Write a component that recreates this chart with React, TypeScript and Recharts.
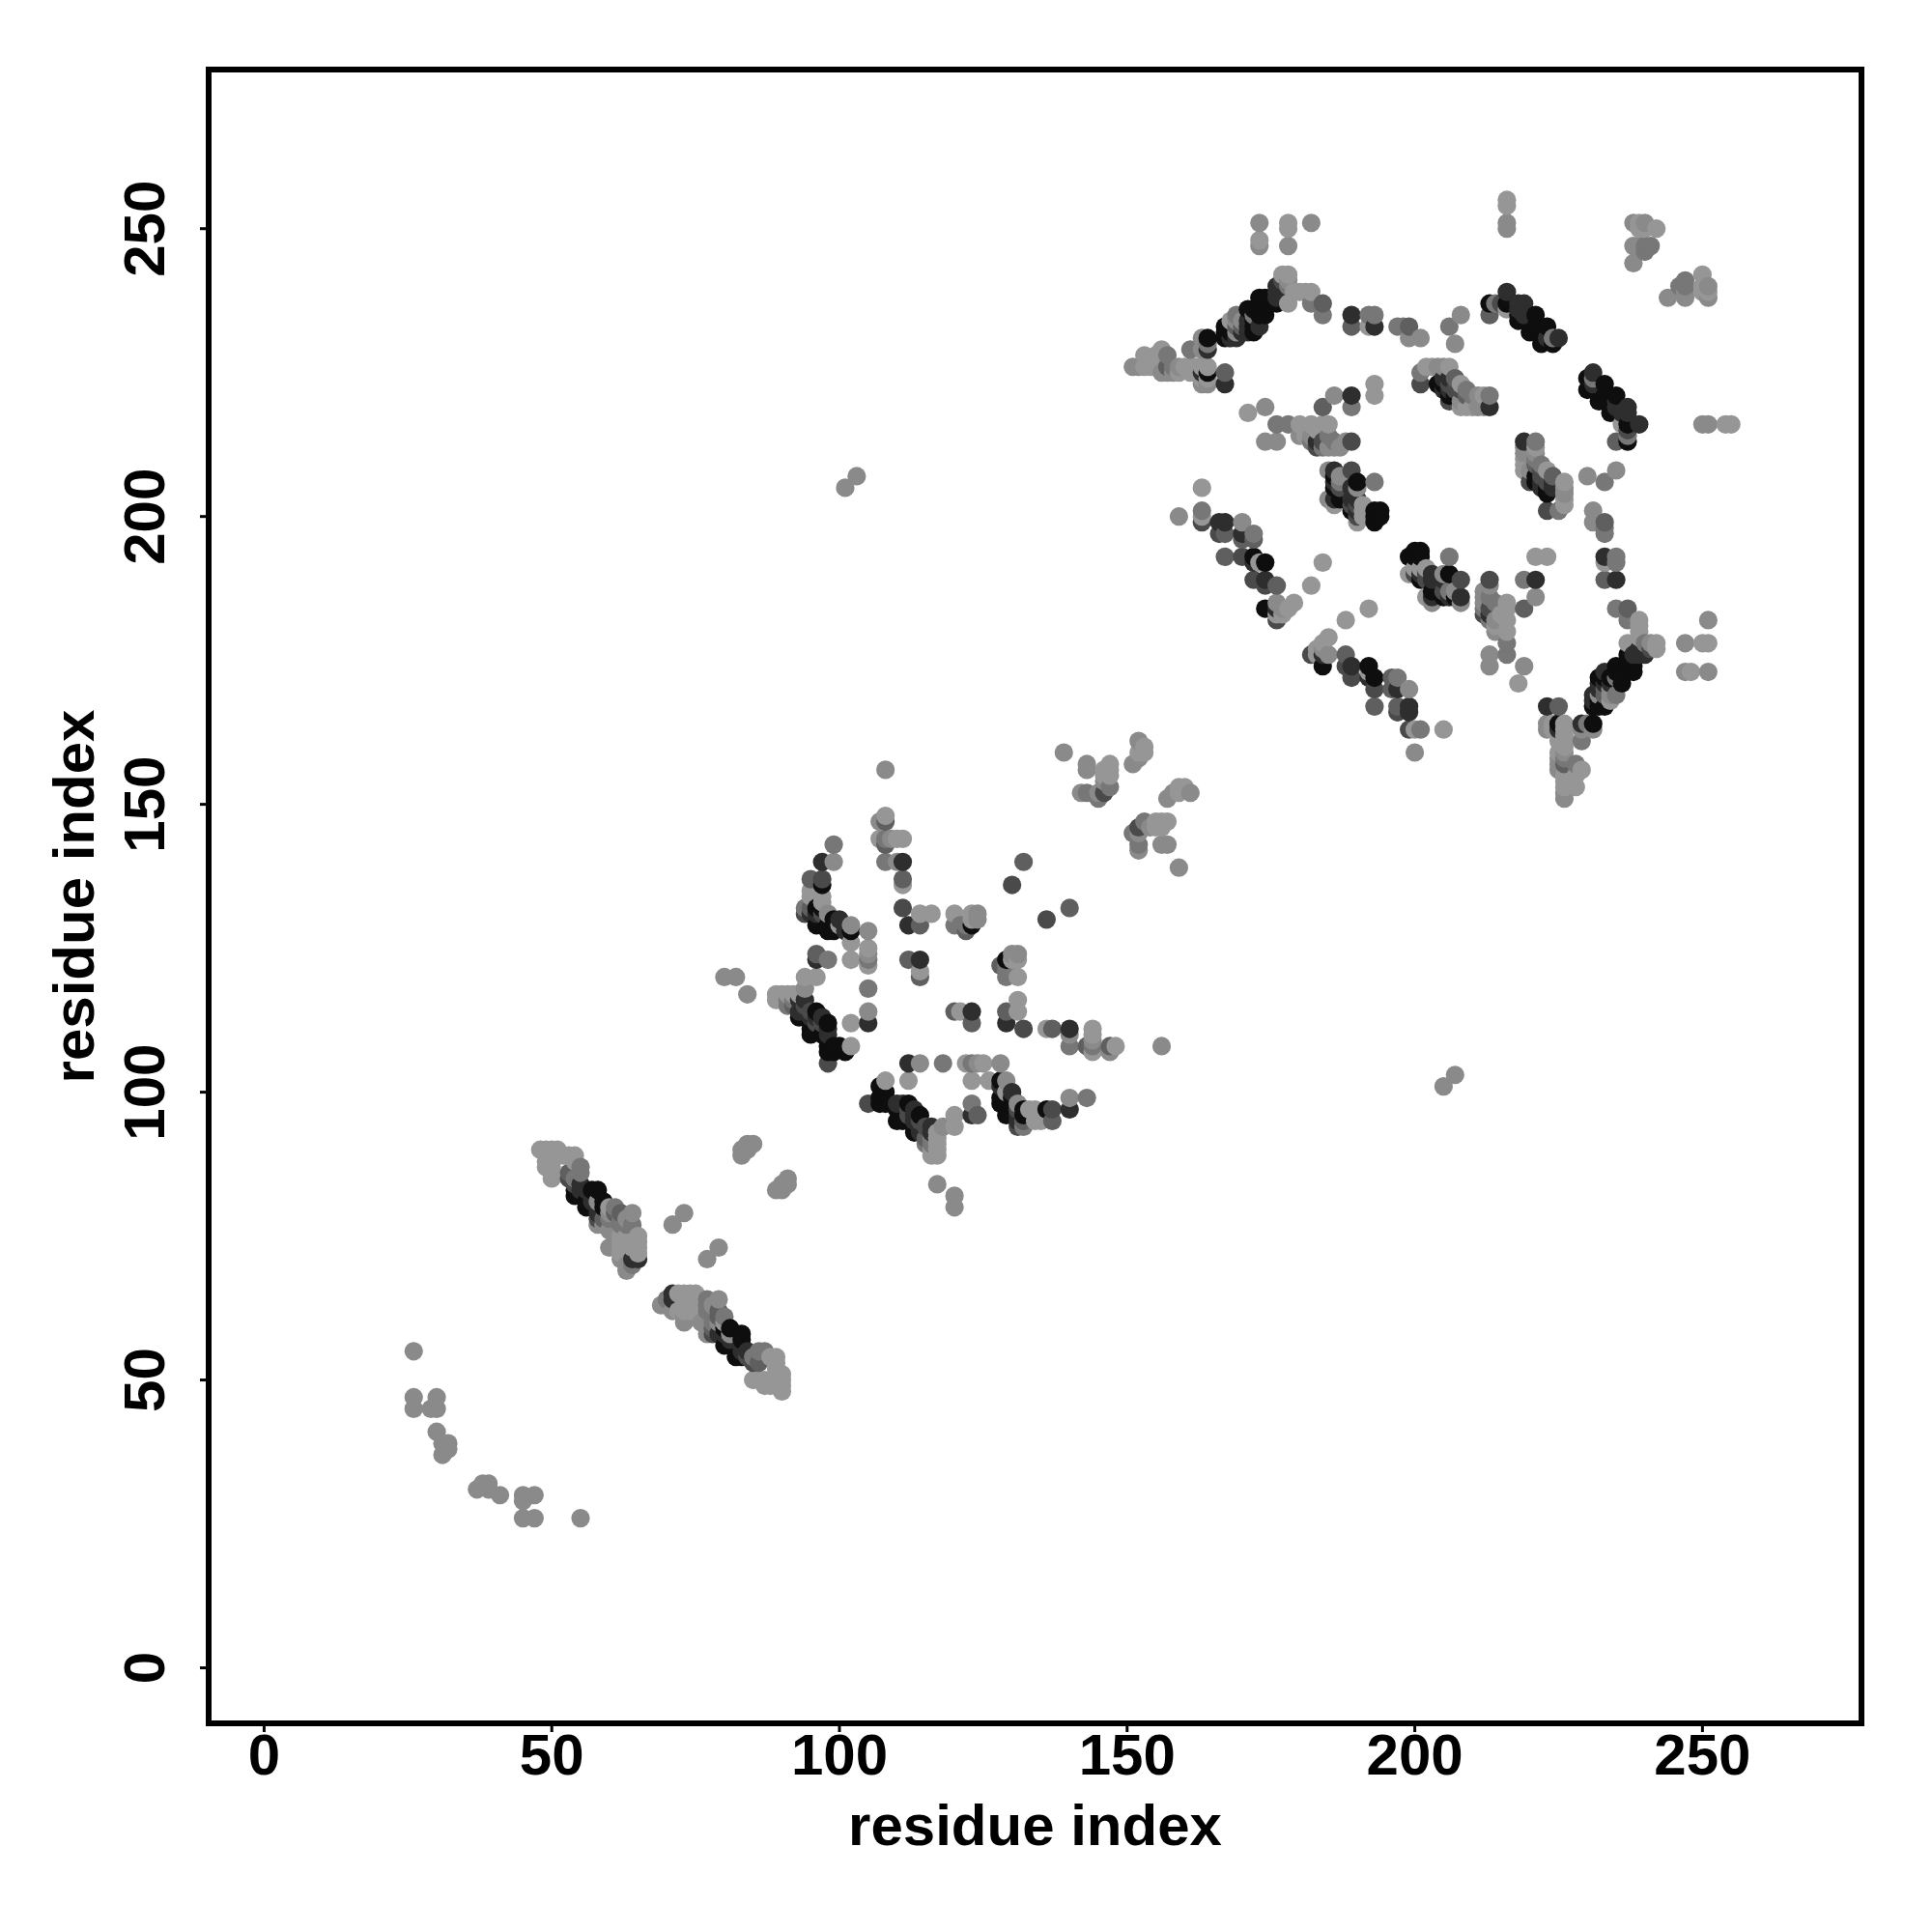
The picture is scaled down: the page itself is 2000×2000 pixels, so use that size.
import { ScatterChart, Scatter, XAxis, YAxis, ReferenceArea, Label } from "recharts";

// residue pairs (i < j), one list per grey level
const palest = [
  [48,90],[49,90],[50,90],[51,90],[49,88],[49,87],[50,89],[50,88],[50,87],[50,86],[50,85],[52,89],[53,89],[54,89],[54,88],
  [60,80],[62,75],[62,74],[63,75],[63,74],[63,73],[64,74],[64,73],[65,75],[65,74],[65,73],[65,72],[62,73],[62,72],
  [89,117],[89,116],[90,117],[90,116],[91,117],[92,117],[93,117],[94,120],[96,120],[102,108],[95,135],[95,134],[97,134],[97,133],
  [100,129],[102,126],[105,125],[105,122],[102,123],[102,112],[108,148],[107,144],[110,144],[111,144],[111,136],[114,131],[116,131],
  [120,131],[123,131],[123,130],[114,121],[146,156],[146,155],[147,157],[147,156],[147,155],[153,159],[152,159],[153,160],
  [173,248],[178,251],[178,250],[153,226],[153,228],[154,227],[154,226],[155,226],[155,228],[156,229],[159,225],[160,226],[161,226],
  [161,225],[162,226],[163,226],[163,224],[164,226],[164,224],[168,234],[177,242],[178,242],[178,237],[179,239],[180,239],[181,239],
  [182,239],[192,233],[202,226],[203,226],[206,226],[208,223],[208,219],[209,219],[210,219],[212,221],[171,218],[193,223],[193,221],
  [180,216],[182,216],[184,216],[185,216],[181,214],[183,215],[186,202],[191,201],[191,202],[191,200],[163,200],[173,192],[184,192],
  [182,188],[176,183],[177,183],[178,184],[179,185],[190,199],[216,255],[216,254],[216,236],[240,250],[239,251],[239,250],
  [242,250],[163,205],
];
const pale = [
  [26,55],[26,47],[26,45],[30,47],[29,45],[30,45],[30,41],[31,39],[32,39],[32,38],[31,37],[71,77],[73,79],[83,89],[83,90],[84,90],
  [84,91],[85,91],[58,77],[59,77],[60,76],[60,73],[61,73],[62,71],[63,70],[63,69],[64,79],[63,78],[60,79],[58,81],
  [80,120],[82,120],[84,117],[94,118],[99,140],[102,129],[105,128],[105,124],[105,114],[98,131],[107,147],[109,144],[110,140],
  [124,131],[124,130],[101,205],[103,207],[139,159],[143,157],[143,156],[142,152],[145,152],[146,154],[151,157],[152,161],[152,158],
  [108,156],[173,251],[173,247],[178,247],[182,251],[151,226],[152,226],[156,225],[157,225],[158,225],[159,226],[163,231],[163,229],
  [163,223],[164,223],[169,232],[169,234],[170,234],[178,241],[199,231],[201,231],[208,235],[207,230],[204,226],[208,220],
  [211,219],[212,219],[211,221],[174,219],[186,221],[174,213],[176,213],[180,214],[182,214],[185,212],[186,212],[187,212],[188,213],
  [185,208],[187,207],[185,203],[190,205],[159,200],[170,199],[176,185],[177,184],[216,251],[216,250],
  [238,251],[240,251],[238,247],[239,247],[238,244],[205,226],
];
const mid = [
  [55,87],[55,86],[62,78],[62,77],[63,77],[64,77],[64,70],[54,85],[60,78],[61,80],[91,116],[91,115],[92,116],[94,132],[99,143],
  [105,123],[105,118],[98,123],[108,144],[108,140],[120,129],[122,129],[121,129],[147,153],[143,152],[145,151],[161,229],[157,228],
  [158,226],[164,230],[169,235],[182,237],[184,235],[192,235],[193,235],[189,219],[197,233],[198,233],[206,233],[201,225],
  [209,222],[213,221],[210,221],[176,216],[178,216],[182,213],[184,212],[185,214],[186,213],[193,206],[187,206],
  [163,201],[172,197],[178,240],[214,237],[224,231],[240,247],[240,246],[241,247],[172,235],
];
const dim = [
  [53,86],[61,79],[62,79],[59,78],[92,115],[95,132],[95,137],[96,124],[112,123],[114,120],[114,129],[108,147],[108,143],[111,137],
  [122,128],[132,140],[157,226],[167,225],[169,233],[170,233],[184,237],[184,219],[189,233],[199,233],[207,224],[209,221],
  [167,197],[167,193],[172,196],[170,196],[176,188],[213,235],
];
const dusky = [
  [53,85],[54,84],[58,78],[94,131],[94,115],[95,114],[96,112],[97,112],[98,105],[97,137],[97,131],[111,132],[130,136],[146,152],
  [177,241],[201,223],[208,222],[207,222],[206,223],[206,220],[183,212],[184,213],[189,213],[189,208],[187,205],[190,202],
  [189,202],[190,200],[163,199],[166,197],[170,193],[172,189],[174,188],[176,182],[215,237],
];
const dark = [
  [55,84],[56,83],[57,81],[58,80],[58,79],[64,71],[65,71],[55,83],[93,116],[93,114],[94,116],[94,114],[95,113],[96,113],[97,113],
  [96,131],[95,131],[97,140],[96,123],[100,130],[101,128],[98,111],[98,110],[105,112],[112,129],[111,140],[114,123],[163,225],
  [164,229],[167,223],[168,231],[169,231],[170,232],[171,232],[171,233],[171,234],[173,233],[176,240],[176,239],[176,238],[177,239],
  [189,235],[193,233],[205,224],[206,224],[206,222],[205,222],[213,219],[183,213],[186,208],[189,205],[189,203],[189,221],
  [190,201],[186,203],[186,206],[190,203],[166,199],[167,199],[170,197],[172,192],[174,189],[176,184],[216,239],[218,237],[219,237],
  [220,235],[218,236],[219,235],[223,231],[225,231],
];
const black = [
  [54,83],[54,82],[56,81],[56,80],[57,83],[58,83],[59,81],[59,80],[93,113],[95,111],[95,110],[96,114],[97,110],[98,112],[98,109],
  [98,108],[98,107],[99,108],[100,108],[99,107],[101,107],[96,132],[96,129],[97,136],[97,132],[98,128],[98,129],[99,130],[99,128],
  [102,128],[123,129],[164,231],[164,225],[167,231],[167,232],[168,232],[171,236],[172,232],[172,234],[172,233],[172,236],[173,235],
  [173,236],[173,238],[174,235],[174,237],[174,238],[175,237],[175,238],[176,237],[167,233],[207,221],[206,221],[205,223],[204,223],
  [190,206],[186,205],[186,207],[187,203],[193,201],[194,201],[193,200],[194,200],[193,199],[189,201],[172,193],[174,192],[174,184],
  [213,237],[216,237],[218,235],[218,234],[221,235],[220,232],[221,233],[223,233],[222,230],[224,230],
];

const xTicks = [0, 50, 100, 150, 200, 250];
const yTicks = [0, 50, 100, 150, 200, 250];
const axisRange = [-9.64, 277.64];

const shadeGroups: [number[][], number][] = [
  [palest, 150], [pale, 138], [mid, 119], [dim, 95], [dusky, 74], [dark, 46], [black, 14],
];

// the map is symmetric, each pair shows on both sides of the diagonal;
// drawn in index order so later residues sit on top like in the original
const contacts = shadeGroups
  .flatMap(([pairs, grey]) =>
    pairs.flatMap(([i, j]) => [
      { x: i, y: j, grey },
      { x: j, y: i, grey },
    ])
  )
  .sort((a, b) => a.x - b.x || a.y - b.y);

const font = "'Liberation Sans', Arial, sans-serif";

function ContactDot(props: any) {
  const { cx, cy, payload } = props;
  const g = payload.grey;
  return <circle cx={cx} cy={cy} r={9.6} fill={`rgb(${g},${g},${g})`} />;
}

function RotatedTick(props: any) {
  const { y, payload } = props;
  return (
    <text
      transform={`rotate(-90 170 ${y})`}
      x={170}
      y={y}
      textAnchor="middle"
      fontFamily={font}
      fontWeight={700}
      fontSize={60}
      fill="#000"
    >
      {payload.value}
    </text>
  );
}

export default function App() {
  return (
    <div style={{ position: "absolute", left: 0, top: 0, width: 2000, height: 2000, background: "#fff" }}>
      <ScatterChart width={2000} height={2000} margin={{ top: 72, right: 73, bottom: 0, left: 0 }}>
        <XAxis
          type="number"
          dataKey="x"
          domain={axisRange}
          ticks={xTicks}
          interval={0}
          height={216}
          axisLine={false}
          tickLine={{ stroke: "#000", strokeWidth: 3 }}
          tickSize={9}
          tickMargin={1}
          tick={{ fontFamily: font, fontWeight: 700, fontSize: 60, fill: "#000" }}
        >
          <Label
            value="residue index"
            position="insideBottom"
            offset={90}
            style={{ fontFamily: font, fontWeight: 700, fontSize: 60, fill: "#000" }}
          />
        </XAxis>
        <YAxis
          type="number"
          dataKey="y"
          domain={axisRange}
          ticks={yTicks}
          interval={0}
          width={216}
          axisLine={false}
          tickLine={{ stroke: "#000", strokeWidth: 3 }}
          tickSize={9}
          tick={RotatedTick}
        >
          <Label
            value="residue index"
            angle={-90}
            position="insideLeft"
            offset={76}
            style={{ fontFamily: font, fontWeight: 700, fontSize: 60, fill: "#000", textAnchor: "middle" }}
          />
        </YAxis>
        <ReferenceArea
          x1={axisRange[0]}
          x2={axisRange[1]}
          y1={axisRange[0]}
          y2={axisRange[1]}
          fill="none"
          stroke="#000"
          strokeWidth={6}
          ifOverflow="visible"
        />
        <Scatter data={contacts} shape={ContactDot} isAnimationActive={false} />
      </ScatterChart>
    </div>
  );
}
